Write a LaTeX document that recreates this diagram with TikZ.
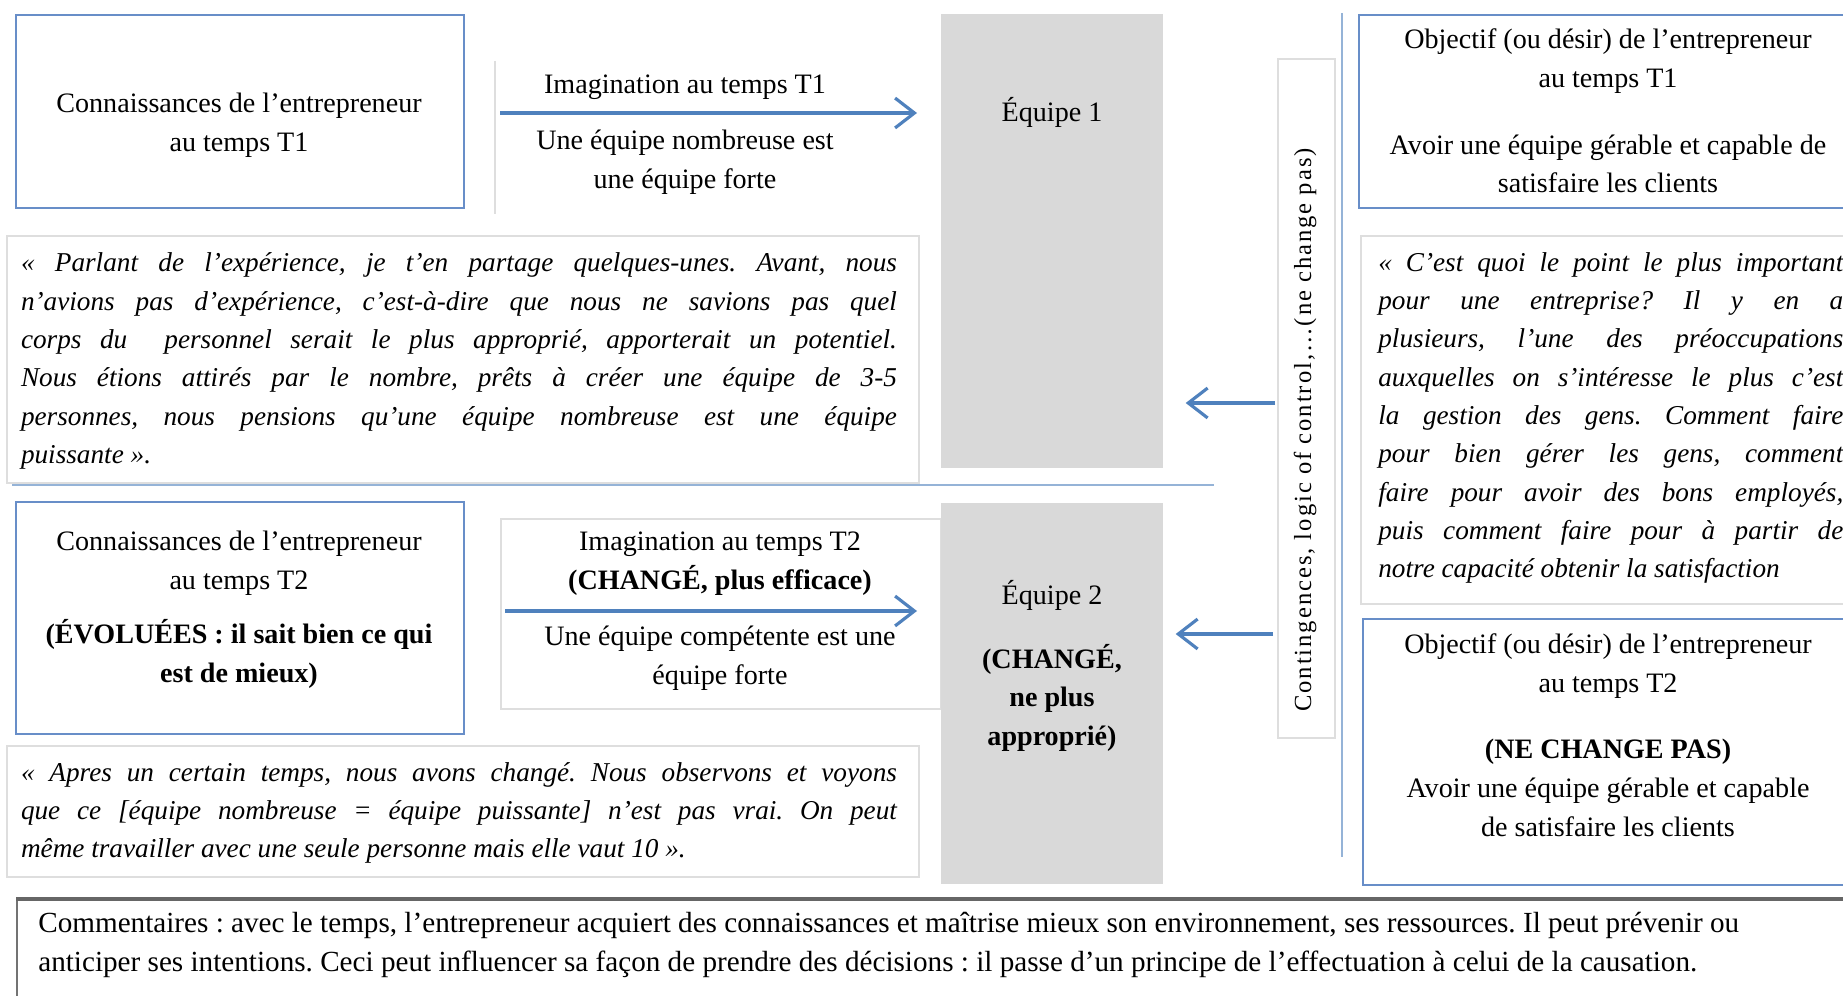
\documentclass[tikz,border=0pt]{standalone}
\usepackage{fontspec}
\setmainfont{Liberation Serif}
\newfontfamily\spacedserif[LetterSpace=8]{Liberation Serif}
\usetikzlibrary{arrows.meta}
\definecolor{boxblue}{RGB}{104,142,200}
\definecolor{arrowblue}{RGB}{79,129,189}
\definecolor{ruleblue}{RGB}{149,179,215}
\definecolor{blockgray}{RGB}{217,217,217}
\definecolor{quotegray}{RGB}{222,222,222}
\newlength\pxw
\setlength\pxw{0.02cm}
\frenchspacing

\begin{document}
\begin{tikzpicture}[x=0.02cm,y=-0.02cm,
  bluebox/.style={draw=boxblue,line width=1.2pt,inner sep=0pt,anchor=north west},
  lightbox/.style={draw=quotegray,line width=1pt,inner sep=0pt,anchor=north west},
  grayblock/.style={fill=blockgray,inner sep=0pt,anchor=north west},
  commentbox/.style={draw=black!55,line width=1pt,inner sep=0pt,anchor=north west},
  maintext/.style={align=center,inner sep=0pt,font=\fontsize{16}{22}\selectfont},
  quotetext/.style={align=justify,inner sep=0pt,font=\fontsize{15.5}{21.8}\selectfont\itshape},
  flow/.style={draw=arrowblue,line width=1.8pt,-{Straight Barb[length=11pt,width=17pt]}},
  rule/.style={draw=ruleblue,line width=1.6pt}]
\useasboundingbox (0,0) rectangle (1843,996);
\clip (0,0) rectangle (1843,996);
\node[bluebox,minimum width=448\pxw,minimum height=193\pxw] (knowA) at (15,14) {};
\node[maintext] (knowAtxt) at (239,125) {Connaissances de l’entrepreneur\\au temps T1};
\draw[quotegray,line width=1pt] (495,61) -- (495,214);
\coordinate (imagA) at (500,113);
\node[maintext] (imagAtop) at (685,87) {Imagination au temps T1};
\node[maintext] (imagAbot) at (685,162) {Une équipe nombreuse est\\une équipe forte};
\node[grayblock,minimum width=222\pxw,minimum height=454\pxw] (eqA) at (941,14) {};
\node[maintext] (eqAtxt) at (1052,112) {Équipe 1};
\draw[flow,shorten >=24\pxw] (imagA) -- (imagA -| eqA.west);
\node[lightbox,minimum width=912\pxw,minimum height=247\pxw] (quoteA) at (6,235) {};
\node[quotetext,text width=876\pxw] (quoteAtxt) at (459,361) {« Parlant de l’expérience, je t’en partage quelques-unes. Avant, nous\linebreak n’avions pas d’expérience, c’est-à-dire que nous ne savions pas quel\linebreak corps du \ personnel serait le plus approprié, apporterait un potentiel.\linebreak Nous étions attirés par le nombre, prêts à créer une équipe de 3-5\linebreak personnes, nous pensions qu’une équipe nombreuse est une équipe\linebreak puissante ».};
\draw[rule] (12,485) -- (1214,485);
\node[bluebox,minimum width=448\pxw,minimum height=232\pxw] (knowB) at (15,501) {};
\node[maintext] (knowBtxt) at (239,610) {Connaissances de l’entrepreneur\\au temps T2\\[9pt]\textbf{(ÉVOLUÉES : il sait bien ce qui}\\\textbf{est de mieux)}};
\node[lightbox,minimum width=440\pxw,minimum height=190\pxw] (imagB) at (500,518) {};
\node[maintext] (imagBtop) at (720,564) {Imagination au temps T2\\\textbf{(CHANGÉ, plus efficace)}};
\node[maintext] (imagBbot) at (720,658) {Une équipe compétente est une\\équipe forte};
\node[grayblock,minimum width=222\pxw,minimum height=381\pxw] (eqB) at (941,503) {};
\node[maintext] (eqBtxt) at (1052,666) {Équipe 2\\[14pt]\textbf{(CHANGÉ,}\\\textbf{ne plus}\\\textbf{approprié)}};
\draw[flow,shorten <=5\pxw,shorten >=24\pxw] (imagB.west |- 0,611) -- (eqB.west |- 0,611);
\node[lightbox,minimum width=912\pxw,minimum height=131\pxw] (quoteB) at (6,745) {};
\node[quotetext,text width=876\pxw] (quoteBtxt) at (459,813) {« Apres un certain temps, nous avons changé. Nous observons et voyons\linebreak que ce [équipe nombreuse = équipe puissante] n’est pas vrai. On peut\linebreak même travailler avec une seule personne mais elle vaut 10 ».};
\node[lightbox,minimum width=57\pxw,minimum height=679\pxw] (cont) at (1277,58) {};
\node[rotate=90,inner sep=0pt,font=\spacedserif\fontsize{14}{16}\selectfont] (conttxt) at (1305,430) {Contingences, logic of control,…(ne change pas)};
\draw[flow,shorten <=2\pxw,shorten >=22\pxw] (cont.west |- 0,403) -- (eqA.east |- 0,403);
\draw[flow,shorten <=4\pxw,shorten >=12\pxw] (cont.west |- 0,634) -- (eqB.east |- 0,634);
\draw[rule] (1342,13) -- (1342,857);
\node[bluebox,minimum width=500\pxw,minimum height=193\pxw] (goalA) at (1358,14) {};
\node[maintext] (goalAtxt) at (1608,111) {Objectif (ou désir) de l’entrepreneur\\au temps T1\\[16pt]Avoir une équipe gérable et capable de\\satisfaire les clients};
\node[lightbox,minimum width=500\pxw,minimum height=368\pxw] (quoteC) at (1360,235) {};
\node[quotetext,text width=465\pxw,anchor=west] (quoteCtxt) at (1378,418) {\parfillskip=0pt « C’est quoi le point le plus important\linebreak pour une entreprise? Il y en a\linebreak plusieurs, l’une des préoccupations\linebreak auxquelles on s’intéresse le plus c’est\linebreak la gestion des gens. Comment faire\linebreak pour bien gérer les gens, comment\linebreak faire pour avoir des bons employés,\linebreak puis comment faire pour à partir de\linebreak notre capacité obtenir la satisfaction};
\node[bluebox,minimum width=496\pxw,minimum height=266\pxw] (goalB) at (1362,618) {};
\node[maintext] (goalBtxt) at (1608,735) {Objectif (ou désir) de l’entrepreneur\\au temps T2\\[16pt]\textbf{(NE CHANGE PAS)}\\Avoir une équipe gérable et capable\\de satisfaire les clients};
\node[commentbox,minimum width=1840\pxw,minimum height=110\pxw] (comment) at (16,899) {};
\draw[black!60,line width=2.2pt] (comment.north west) -- (comment.north east);
\node[anchor=west,align=left,inner sep=0pt,font=\fontsize{16.6}{22.7}\selectfont] (commenttxt) at (38,945) {Commentaires : avec le temps, l’entrepreneur acquiert des connaissances et maîtrise mieux son environnement, ses ressources. Il peut prévenir ou\\anticiper ses intentions. Ceci peut influencer sa façon de prendre des décisions : il passe d’un principe de l’effectuation à celui de la causation.};
\end{tikzpicture}
\end{document}
